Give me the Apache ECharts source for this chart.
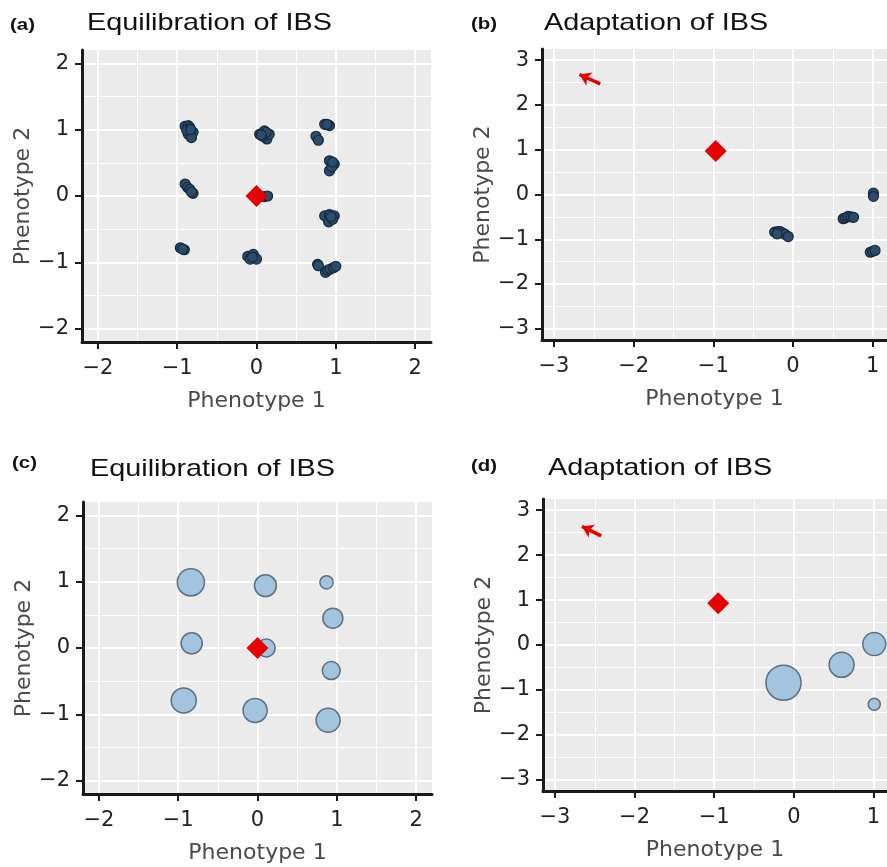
<!DOCTYPE html>
<html>
<head>
<meta charset="utf-8">
<script src="https://cdn.jsdelivr.net/npm/echarts@6/dist/echarts.min.js"></script>
<style>
  html, body { margin: 0; padding: 0; background: #fff; overflow: hidden; }
  #chart { width: 887px; height: 867px; }
</style>
</head>
<body>
<div id="chart"></div>
<script>
// 刻度
const majorSmall = [-2, -1, 0, 1, 2];
const minorSmall = [-1.5, -0.5, 0.5, 1.5];
const majorBig = [-3, -2, -1, 0, 1, 2, 3];
const minorBig = [-2.5, -1.5, -0.5, 0.5, 1.5, 2.5];

// (a) 平衡期个体表型
const dotsA = [
  [-0.90, 1.05], [-0.86, 1.06], [-0.84, 1.03], [-0.86, 0.93], [-0.80, 0.96], [-0.82, 0.88], [-0.88, 0.99], [-0.83, 1.00],
  [0.04, 0.93], [0.10, 0.98], [0.13, 0.86], [0.08, 0.90], [0.16, 0.93], [0.12, 0.96], [0.06, 0.92],
  [0.86, 1.08], [0.92, 1.06], [0.89, 1.08],
  [0.75, 0.90], [0.78, 0.84],
  [0.92, 0.53], [0.98, 0.48], [0.92, 0.38], [0.95, 0.44], [0.96, 0.51],
  [-0.90, 0.18], [-0.87, 0.13], [-0.84, 0.10], [-0.80, 0.04], [-0.82, 0.06],
  [0.10, -0.01], [0.14, 0.00],
  [0.86, -0.30], [0.92, -0.28], [0.98, -0.30], [0.91, -0.39], [0.96, -0.35], [0.94, -0.31],
  [-0.96, -0.78], [-0.91, -0.81], [-0.93, -0.80],
  [-0.11, -0.91], [-0.04, -0.88], [0.00, -0.95], [-0.08, -0.95], [-0.05, -0.92],
  [0.77, -1.03], [0.78, -1.05],
  [0.87, -1.15], [0.90, -1.12], [0.93, -1.10], [0.97, -1.08], [1.00, -1.06]
];
// (b) 适应期个体表型
const dotsB = [
  [-0.23, -0.84], [-0.19, -0.83], [-0.16, -0.83], [-0.13, -0.86], [-0.10, -0.89], [-0.06, -0.94], [-0.20, -0.88],
  [0.63, -0.54], [0.66, -0.52], [0.69, -0.49], [0.73, -0.50], [0.76, -0.51],
  [1.01, 0.03], [1.01, -0.04],
  [0.97, -1.29], [1.00, -1.27], [1.03, -1.25]
];
// (c) 聚类中心与个体数
const bubX_C = [-0.84, 0.10, 0.87, 0.95, -0.83, 0.11, 0.93, -0.93, -0.03, 0.89];
const bubY_C = [0.99, 0.94, 0.99, 0.45, 0.07, 0.00, -0.34, -0.79, -0.94, -1.09];
const bubN_C = [46, 30, 11, 25, 28, 20, 20, 39, 36, 36];
// (d)
const bubX_D = [-0.13, 0.60, 1.01, 1.01];
const bubY_D = [-0.84, -0.44, 0.02, -1.32];
const bubN_D = [77, 39, 33, 9];
// 最优表型
const optA = [0, 0];
const optB = [-0.97, 0.97];
const optC = [0, 0];
const optD = [-0.95, 0.93];
// 最优点移动方向
const arrowB = [[-2.42, 2.47], [-2.68, 2.68]];
const arrowD = [[-2.42, 2.43], [-2.66, 2.64]];

const TXT = '#222';
const RED = '#e60000';
const fmt = (v) => (v < 0 ? '\u2212' + Math.abs(v) : String(v));

// 右侧两幅图在原图右缘被截断，x 轴只到约 1.18
const grids = [
  { left: 82, top: 50, width: 349, height: 292, x: [-2.2, 2.2], y: [-2.2, 2.2], major: majorSmall, minor: minorSmall },
  { left: 542, top: 49, width: 345, height: 291, x: [-3.15, 1.18], y: [-3.25, 3.25], major: majorBig, minor: minorBig },
  { left: 83, top: 502, width: 349, height: 292, x: [-2.2, 2.2], y: [-2.2, 2.2], major: majorSmall, minor: minorSmall },
  { left: 543, top: 499, width: 344, height: 292, x: [-3.15, 1.17], y: [-3.25, 3.25], major: majorBig, minor: minorBig }
];

const inRange = (vals, r) => vals.filter((v) => v > r[0] && v < r[1]);

function mainAxis(i, dim, g) {
  const r = g[dim];
  const major = inRange(g.major, r);
  return {
    gridIndex: i, type: 'value', min: r[0], max: r[1],
    position: dim === 'x' ? 'bottom' : 'left',
    name: dim === 'x' ? 'Phenotype 1' : 'Phenotype 2',
    nameLocation: 'middle', nameGap: dim === 'x' ? 48 : 47,
    nameTextStyle: { fontFamily: 'DejaVu Sans', fontSize: 22, color: '#4a4a4a' },
    axisLine: { show: true, onZero: false, lineStyle: { color: '#1a1a1a', width: 3 } },
    axisTick: { show: true, length: 7, customValues: major, lineStyle: { color: '#1a1a1a', width: 2 } },
    axisLabel: { customValues: major, formatter: fmt, color: TXT, fontFamily: 'DejaVu Sans', fontSize: 21, margin: dim === 'x' ? 16 : 13 },
    splitLine: { show: true, customValues: major, lineStyle: { color: '#ffffff', width: 2 } }
  };
}
function minorAxis(i, dim, g) {
  const r = g[dim];
  const minor = inRange(g.minor, r);
  return {
    gridIndex: i, type: 'value', min: r[0], max: r[1],
    position: dim === 'x' ? 'top' : 'right',
    axisLine: { show: false }, axisLabel: { show: false },
    axisTick: { show: false, customValues: minor },
    splitLine: { show: true, customValues: minor, lineStyle: { color: '#ffffff', width: 1 } }
  };
}

const xAxis = [], yAxis = [];
grids.forEach((g, i) => {
  xAxis.push(mainAxis(i, 'x', g), minorAxis(i, 'x', g));
  yAxis.push(mainAxis(i, 'y', g), minorAxis(i, 'y', g));
});

function dotSeries(i, data) {
  return {
    type: 'scatter', xAxisIndex: 2 * i, yAxisIndex: 2 * i, data, symbolSize: 10, z: 3,
    itemStyle: { color: '#2a4d6d', borderColor: '#16283a', borderWidth: 1.2, opacity: 1 }
  };
}
function bubbleSeries(i, xs, ys, ns) {
  return {
    type: 'scatter', xAxisIndex: 2 * i, yAxisIndex: 2 * i,
    data: xs.map((x, k) => [x, ys[k], ns[k]]),
    symbolSize: (d) => 4 * Math.sqrt(d[2]), z: 3,
    itemStyle: { color: '#a3c4de', borderColor: '#5e6f7f', borderWidth: 1.5, opacity: 1 }
  };
}
function optSeries(i, p) {
  return {
    type: 'scatter', xAxisIndex: 2 * i, yAxisIndex: 2 * i, data: [p], symbol: 'diamond',
    symbolSize: [22, 22], z: 5, itemStyle: { color: RED, opacity: 1 }
  };
}
function arrowSeries(i, c) {
  return {
    type: 'lines', coordinateSystem: 'cartesian2d', xAxisIndex: 2 * i, yAxisIndex: 2 * i,
    data: [{ coords: c }], symbol: ['none', 'arrow'], symbolSize: 11, z: 5,
    lineStyle: { color: RED, width: 3.5, opacity: 1 }
  };
}

function titleText(x, y, text, bold, size, sx) {
  return {
    type: 'text', x, y, scaleX: sx,
    style: {
      text, fill: '#111', verticalAlign: 'middle', textAlign: 'left',
      font: (bold ? 'bold ' : '') + size + 'px "Liberation Sans", Arial, sans-serif'
    }
  };
}

const chart = echarts.init(document.getElementById('chart'), null, { renderer: 'canvas' });
chart.setOption({
  animation: false,
  backgroundColor: '#ffffff',
  grid: grids.map((g) => ({
    left: g.left, top: g.top, width: g.width, height: g.height,
    show: true, backgroundColor: '#ebebeb', borderWidth: 0
  })),
  xAxis, yAxis,
  graphic: [
    titleText(10, 25, '(a)', true, 17, 1.2),
    titleText(87, 23, 'Equilibration of IBS', false, 24, 1.2),
    titleText(471, 24, '(b)', true, 17, 1.2),
    titleText(544, 23, 'Adaptation of IBS', false, 24, 1.2),
    titleText(12, 463, '(c)', true, 17, 1.2),
    titleText(90, 469, 'Equilibration of IBS', false, 24, 1.2),
    titleText(471, 466, '(d)', true, 17, 1.2),
    titleText(548, 468, 'Adaptation of IBS', false, 24, 1.2)
  ],
  series: [
    dotSeries(0, dotsA), optSeries(0, optA),
    dotSeries(1, dotsB), optSeries(1, optB), arrowSeries(1, arrowB),
    bubbleSeries(2, bubX_C, bubY_C, bubN_C), optSeries(2, optC),
    bubbleSeries(3, bubX_D, bubY_D, bubN_D), optSeries(3, optD), arrowSeries(3, arrowD)
  ]
});
</script>
</body>
</html>
